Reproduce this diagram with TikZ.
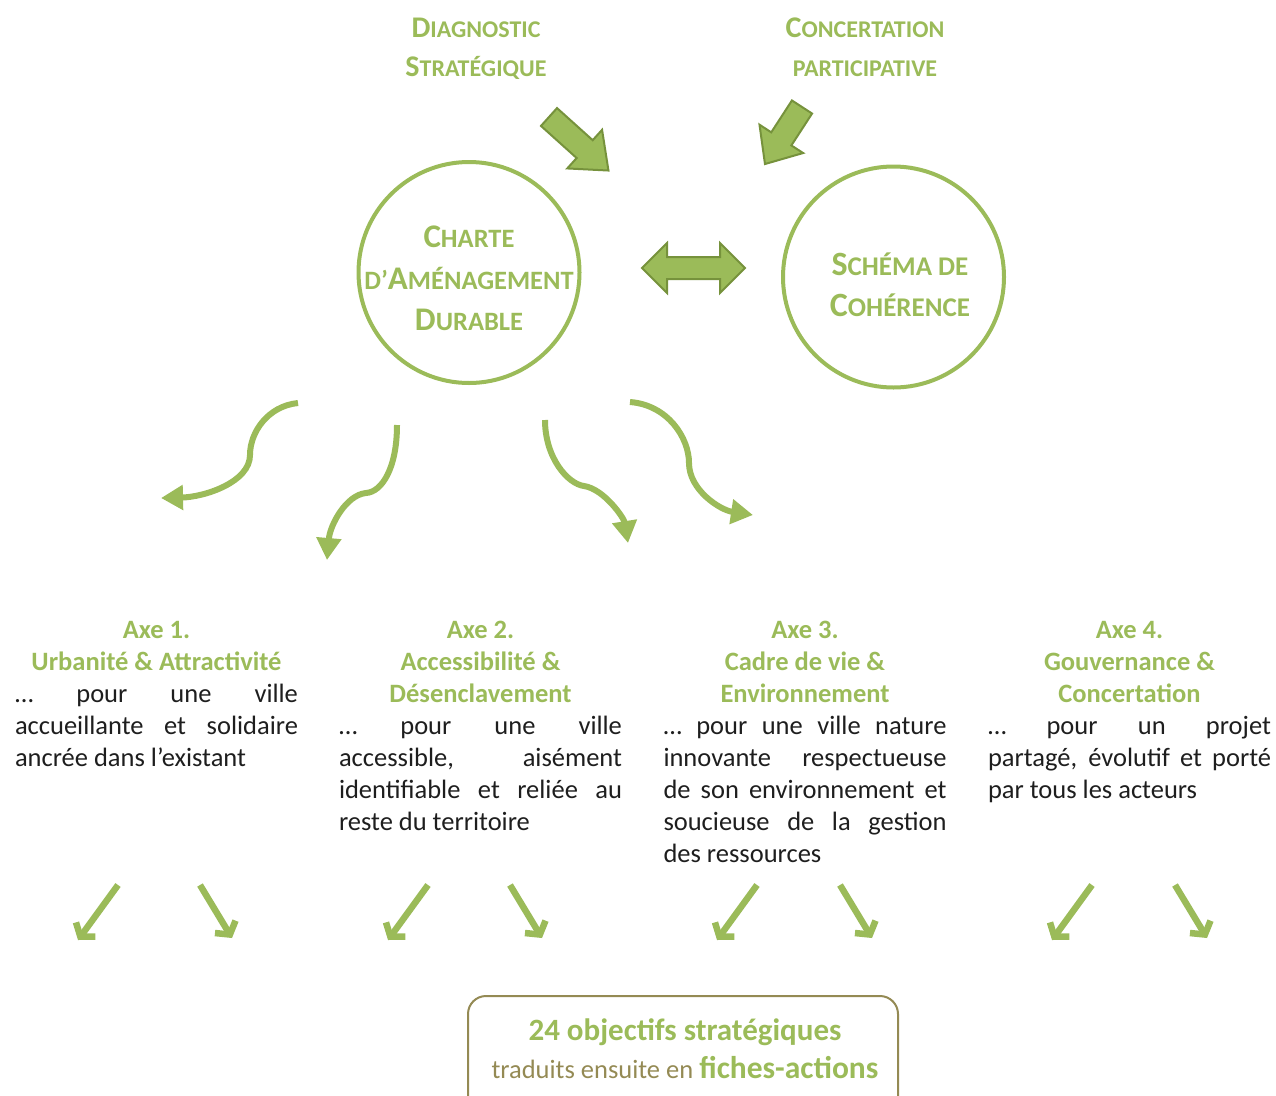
\documentclass[tikz,border=0pt]{standalone}
\usepackage{fontspec}
\setmainfont{Carlito}
\usetikzlibrary{arrows.meta}
\definecolor{gr}{RGB}{155,187,89}
\definecolor{dgr}{RGB}{118,146,60}
\definecolor{olivebox}{RGB}{148,138,84}
\definecolor{txt}{RGB}{30,30,30}
\newcommand\fs[1]{\fontsize{#1}{#1}\selectfont}
\begin{document}
\begin{tikzpicture}[x=1pt,y=-1pt,
  hd/.style={anchor=base,inner sep=0,text=gr,font=\bfseries},
  ring/.style={circle,draw=gr,line width=4pt,minimum size=221pt,inner sep=0},
  blockarr/.style={fill=gr,draw=dgr,line width=2pt,line join=miter},
  curarr/.style={draw=gr,line width=6pt,-{Triangle[length=22pt,width=24pt]}},
  smallarr/.style={draw=gr,line width=6.5pt,-{Straight Barb[length=9pt,width=24pt]}},
  axe/.style={anchor=north,inner sep=0,text width=283pt,text=txt,align=justify,
    font={\fontsize{26.5}{32}\selectfont\parindent=0pt\hyphenpenalty=10000\exhyphenpenalty=10000\tolerance=10000}},
  box/.style={draw=olivebox,line width=2pt,rounded corners=18pt}]
\path[use as bounding box] (0,0) rectangle (1276,1095);

% top headings
\node[hd] (diag1) at (476,37) {{\fs{30}D}{\fs{24}IAGNOSTIC}};
\node[hd] (diag2) at (476,76) {{\fs{30}S}{\fs{24}TRATÉGIQUE}};
\node[hd] (conc1) at (865,37) {{\fs{30}C}{\fs{24}ONCERTATION}};
\node[hd] (conc2) at (865,76) {{\fs{24}PARTICIPATIVE}};

% circles
\node[ring] (charte) at (469,272.5) {};
\node[ring] (schema) at (893.5,277) {};
\node[hd] (ch1) at (469,247) {{\fs{33}C}{\fs{26.5}HARTE}};
\node[hd] (ch2) at (469,289) {{\fs{26.5}D’}{\fs{33}A}{\fs{26.5}MÉNAGEMENT}};
\node[hd] (ch3) at (469,330) {{\fs{33}D}{\fs{26.5}URABLE}};
\node[hd] (sc1) at (900,275) {{\fs{34}S}{\fs{27}CHÉMA DE}};
\node[hd] (sc2) at (900,316) {{\fs{34}C}{\fs{27}OHÉRENCE}};

% block arrows
\begin{scope}[shift={(549,117)},rotate=-42]
  \path[blockarr] (0,-12) -- (48,-12) -- (48,-26) -- (80,0) -- (48,26) -- (48,12) -- (0,12) -- cycle;
\end{scope}
\begin{scope}[shift={(802,107)},rotate=-123]
  \path[blockarr] (0,-12) -- (38,-12) -- (38,-26) -- (68,0) -- (38,26) -- (38,12) -- (0,12) -- cycle;
\end{scope}
\path[blockarr] (642,268) -- (667,243) -- (667,257) -- (720,257) -- (720,243) -- (745,268)
  -- (720,293) -- (720,279) -- (667,279) -- (667,293) -- cycle;

% curved arrows
\coordinate (c1s) at (298,403); \coordinate (c1e) at (161,498);
\coordinate (c2s) at (397,425); \coordinate (c2e) at (327,560);
\coordinate (c3s) at (545,420); \coordinate (c3e) at (628,543);
\coordinate (c4s) at (630,402); \coordinate (c4e) at (753,515);
\draw[curarr] (c1s) .. controls (268,406) and (250,432) .. (250,455)
  .. controls (250,482) and (205,497) .. (c1e);
\draw[curarr] (c2s) .. controls (397,468) and (382,492) .. (366,493)
  .. controls (346,495) and (330,525) .. (c2e);
\draw[curarr] (c3s) .. controls (545,458) and (568,484) .. (584,486)
  .. controls (604,489) and (624,518) .. (c3e);
\draw[curarr] (c4s) .. controls (668,405) and (689,438) .. (689,463)
  .. controls (689,490) and (720,510) .. (c4e);

% axes
\node[axe] (axe1) at (156.5,621) {{\centering\color{gr}\bfseries Axe 1.\\ Urbanité \& Attractivité\par}
… pour une ville\linebreak accueillante et solidaire\linebreak ancrée dans l’existant};
\node[axe] (axe2) at (480.5,621) {{\centering\color{gr}\bfseries Axe 2.\\ Accessibilité \&\\ Désenclavement\par}
… pour une ville\linebreak accessible, aisément\linebreak identifiable et reliée au\linebreak reste du territoire};
\node[axe] (axe3) at (805,621) {{\centering\color{gr}\bfseries Axe 3.\\ Cadre de vie \&\\ Environnement\par}
… pour une ville nature\linebreak innovante respectueuse\linebreak de son environnement et\linebreak soucieuse de la gestion\linebreak des ressources};
\node[axe] (axe4) at (1129.5,621) {{\centering\color{gr}\bfseries Axe 4.\\ Gouvernance \&\\ Concertation\par}
… pour un projet\linebreak partagé, évolutif et porté\linebreak par tous les acteurs};

% small arrows
\foreach \i/\a/\b in {1/118/200, 2/428/510, 3/757/840, 4/1092/1175}{
  \coordinate (l\i s) at (\a,885); \coordinate (l\i e) at ({\a-40},940);
  \coordinate (r\i s) at (\b,885); \coordinate (r\i e) at ({\b+32},938);
  \draw[smallarr] (l\i s) -- (l\i e);
  \draw[smallarr] (r\i s) -- (r\i e);
}

% bottom box
\begin{scope}
\clip (0,0) rectangle (1276,1095);
\node[box,anchor=north,minimum width=430pt,minimum height=130pt] (obj) at (683,995) {};
\end{scope}
\node[anchor=base,inner sep=0,text=gr,font=\bfseries\fs{31}] (obj1) at (685,1040) {24 objectifs stratégiques};
\node[anchor=base,inner sep=0,text=olivebox,font=\fs{26.5}] (obj2) at (685,1078) {traduits ensuite en {\color{gr}\bfseries\fs{31.5}fiches-actions}};
\end{tikzpicture}
\end{document}
